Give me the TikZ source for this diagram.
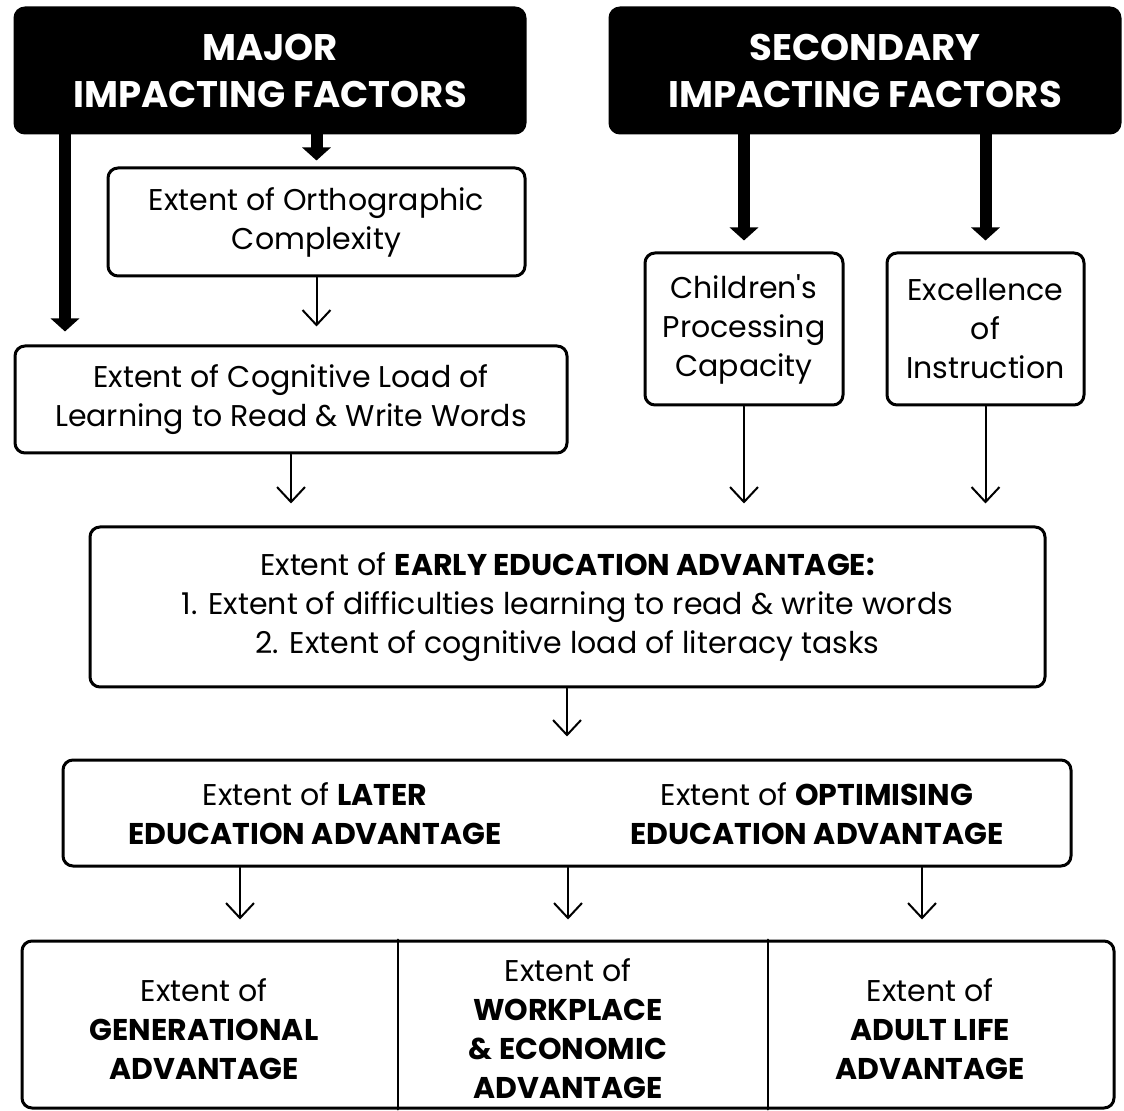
\documentclass[tikz,border=0pt]{standalone}
\usepackage{fontspec}
\setmainfont{Poppins}
\usetikzlibrary{arrows.meta}

\begin{document}
\begin{tikzpicture}[x=0.5pt,y=-0.5pt,line cap=round,
  headbox/.style={draw=black,fill=black,line width=1.5pt,rounded corners=5pt,
    text=white,align=center,font=\bfseries\fontsize{18.5}{23.5}\selectfont},
  plainbox/.style={draw=black,line width=1.5pt,rounded corners=5pt,align=center,
    font=\fontsize{15}{19.5}\selectfont},
  plaintext/.style={align=center,font=\fontsize{15}{19.5}\selectfont},
  thickarr/.style={line width=6pt,line cap=butt,-{Triangle[length=6.5pt,width=14pt]}},
  thinarr/.style={line width=1pt,-{Straight Barb[length=7.5pt,width=14pt]},shorten >=9pt}]
\useasboundingbox (0,0) rectangle (1124,1111);
% top row
\node[headbox,minimum width=255pt,minimum height=62.5pt] (major) at (270,70.5)
  {MAJOR\\IMPACTING FACTORS};
\node[headbox,minimum width=255pt,minimum height=62.5pt] (second) at (865,70.5)
  {SECONDARY\\IMPACTING FACTORS};
\node[plainbox,minimum width=208.5pt,minimum height=54pt] (ortho) at (316.5,222)
  {Extent of Orthographic\\Complexity};
\node[plainbox,minimum width=276pt,minimum height=53.5pt] (cogload) at (291,399.5)
  {Extent of Cognitive Load of\\Learning to Read \& Write Words};
\node[plainbox,minimum width=99pt,minimum height=76pt] (capacity) at (744,329)
  {Children\textquotesingle s\\Processing\\Capacity};
\node[plainbox,minimum width=98.5pt,minimum height=76pt] (instruct) at (985.5,329)
  {Excellence\\of\\Instruction};
% middle
\node[plainbox,minimum width=477.5pt,minimum height=80pt] (early) at (567.5,607)
  {Extent of \textbf{EARLY EDUCATION ADVANTAGE:}\\
   1. Extent of difficulties learning to read \& write words\\
   2. Extent of cognitive load of literacy tasks};
\node[plainbox,minimum width=504pt,minimum height=53pt] (later) at (567,813) {};
\node[plaintext] (latertxt) at (315,814) {Extent of \textbf{LATER}\\\textbf{EDUCATION ADVANTAGE}};
\node[plaintext] (optimtxt) at (817,814) {Extent of \textbf{OPTIMISING}\\\textbf{EDUCATION ADVANTAGE}};
% bottom row
\node[plainbox,minimum width=546pt,minimum height=83.5pt] (outcome) at (568,1024.5) {};
\draw[line width=1pt] (outcome.north -| 398,0) -- (outcome.south -| 398,0);
\draw[line width=1pt] (outcome.north -| 768,0) -- (outcome.south -| 768,0);
\node[plaintext] (gener) at (204,1029) {Extent of\\\textbf{GENERATIONAL}\\\textbf{ADVANTAGE}};
\node[plaintext] (work) at (568,1029) {Extent of\\\textbf{WORKPLACE}\\\textbf{\& ECONOMIC}\\\textbf{ADVANTAGE}};
\node[plaintext] (adult) at (930,1029) {Extent of\\\textbf{ADULT LIFE}\\\textbf{ADVANTAGE}};
% arrows
\draw[thickarr,shorten >=3pt] (major.south -| ortho.north) -- (ortho.north);
\draw[thickarr,shorten >=6.5pt] (major.south -| 65,0) -- (cogload.north -| 65,0);
\draw[thickarr,shorten >=5.5pt] (second.south -| capacity.north) -- (capacity.north);
\draw[thickarr,shorten >=5.5pt] (second.south -| instruct.north) -- (instruct.north);
\draw[thinarr] (ortho.south) -- (ortho.south |- cogload.north);
\draw[thinarr,shorten >=11pt] (cogload.south) -- (cogload.south |- early.north);
\draw[thinarr,shorten >=11pt] (capacity.south) -- (capacity.south |- early.north);
\draw[thinarr,shorten >=11pt] (instruct.south) -- (instruct.south |- early.north);
\draw[thinarr,shorten >=11pt] (early.south -| later.north) -- (later.north);
\draw[thinarr,shorten >=10pt] (later.south -| 240,0) -- (outcome.north -| 240,0);
\draw[thinarr,shorten >=10pt] (later.south -| work.south) -- (work.south |- outcome.north);
\draw[thinarr,shorten >=10pt] (later.south -| 922,0) -- (outcome.north -| 922,0);
\end{tikzpicture}
\end{document}
